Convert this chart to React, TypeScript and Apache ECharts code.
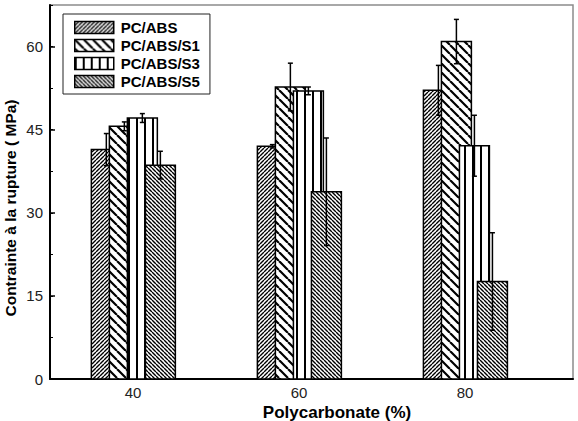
import React, { useEffect, useRef } from "react";
import * as echarts from "echarts";

const categories = [40, 60, 80];
const seriesNames = ["PC/ABS", "PC/ABS/S1", "PC/ABS/S3", "PC/ABS/S5"];
const pcAbs = [41.4, 42.0, 52.1];
const pcAbsS1 = [45.6, 52.7, 60.9];
const pcAbsS3 = [47.1, 52.0, 42.1];
const pcAbsS5 = [38.6, 33.8, 17.6];
const errPcAbs = [2.9, 0.3, 4.5];
const errS1 = [0.8, 4.3, 4.0];
const errS3 = [0.8, 0.7, 5.5];
const errS5 = [2.5, 9.7, 8.8];
const yTickLabels = [0, 15, 30, 45, 60];

const values = [pcAbs, pcAbsS1, pcAbsS3, pcAbsS5];
const errors = [errPcAbs, errS1, errS3, errS5];

const FONT = "Liberation Sans, Arial, sans-serif";
const BAR_W = 3.61;
const STEP = 2.17;
const FIRST = -5.02;

function diagPattern(p: number, lw: number, dir: "/" | "\\") {
  const c = document.createElement("canvas");
  c.width = p;
  c.height = p;
  const ctx = c.getContext("2d")!;
  ctx.fillStyle = "#fff";
  ctx.fillRect(0, 0, p, p);
  ctx.strokeStyle = "#000";
  ctx.lineWidth = lw;
  ctx.beginPath();
  for (let k = -1; k <= 1; k++) {
    if (dir === "/") {
      ctx.moveTo(k * p, p);
      ctx.lineTo(k * p + p, 0);
    } else {
      ctx.moveTo(k * p, 0);
      ctx.lineTo(k * p + p, p);
    }
  }
  ctx.stroke();
  return { image: c, repeat: "repeat", imageWidth: p, imageHeight: p } as any;
}

function vertPattern(p: number, lw: number) {
  const c = document.createElement("canvas");
  c.width = p;
  c.height = p;
  const ctx = c.getContext("2d")!;
  ctx.fillStyle = "#fff";
  ctx.fillRect(0, 0, p, p);
  ctx.fillStyle = "#000";
  ctx.fillRect(0, 0, lw, p);
  return { image: c, repeat: "repeat", imageWidth: p, imageHeight: p } as any;
}

export default function App() {
  const ref = useRef<HTMLDivElement>(null);
  useEffect(() => {
    if (!ref.current) return;
    const chart = echarts.init(ref.current, null, { renderer: "svg" });
    const patterns = [
      diagPattern(4, 1.4, "/"),
      diagPattern(9, 2.2, "\\"),
      vertPattern(8, 2),
      diagPattern(4, 1.4, "\\"),
    ];

    const barSeries = seriesNames.map((name, i) => ({
      type: "custom",
      name,
      xAxisIndex: 0,
      yAxisIndex: 0,
      itemStyle: { color: "#000" },
      data: categories.map((c, k) => [c, values[i][k]]),
      renderItem: (params: any, api: any) => {
        const c = api.value(0);
        const v = api.value(1);
        const x0 = c + FIRST + STEP * i;
        const p1 = api.coord([x0, v]);
        const p0 = api.coord([x0 + BAR_W, 0]);
        return {
          type: "rect",
          shape: { x: p1[0], y: p1[1], width: p0[0] - p1[0], height: p0[1] - p1[1] },
          style: { fill: patterns[i], stroke: "#000", lineWidth: 1.5 },
        };
      },
    }));

    const errData: number[][] = [];
    seriesNames.forEach((_, i) => {
      categories.forEach((c, k) => {
        errData.push([c, values[i][k], errors[i][k], i]);
      });
    });

    const errSeries = {
      type: "custom",
      name: "err",
      xAxisIndex: 0,
      yAxisIndex: 0,
      z: 5,
      data: errData,
      renderItem: (params: any, api: any) => {
        const c = api.value(0);
        const v = api.value(1);
        const e = api.value(2);
        const i = api.value(3);
        const xc = c + FIRST + STEP * i + BAR_W / 2;
        const top = api.coord([xc, v + e]);
        const bot = api.coord([xc, v - e]);
        const hw = 2.5;
        const st = { stroke: "#000", lineWidth: 1.5 };
        return {
          type: "group",
          children: [
            { type: "line", shape: { x1: top[0], y1: top[1], x2: bot[0], y2: bot[1] }, style: st },
            { type: "line", shape: { x1: top[0] - hw, y1: top[1], x2: top[0] + hw, y2: top[1] }, style: st },
            { type: "line", shape: { x1: bot[0] - hw, y1: bot[1], x2: bot[0] + hw, y2: bot[1] }, style: st },
          ],
        };
      },
    };

    const option: any = {
      animation: false,
      grid: {
        left: 50,
        right: 5,
        top: 5,
        bottom: 42,
        show: true,
        borderColor: "#8c8c8c",
        borderWidth: 1.5,
      },
      legend: {
        orient: "vertical",
        left: 63,
        top: 14,
        itemWidth: 39,
        itemHeight: 12,
        itemGap: 3,
        padding: [6, 10, 5, 11],
        borderColor: "#222",
        borderWidth: 1,
        selectedMode: false,
        textStyle: { fontFamily: FONT, fontWeight: "bold", fontSize: 15, color: "#000", padding: [0, 0, 0, 2] },
        data: seriesNames.map((n, i) => ({
          name: n,
          icon: "rect",
          itemStyle: { color: patterns[i], borderColor: "#000", borderWidth: 1.5 },
        })),
      },
      xAxis: {
        type: "value",
        min: 30,
        max: 93,
        axisLine: { show: true, onZero: false, lineStyle: { color: "#000", width: 2 } },
        axisTick: { show: false },
        splitLine: { show: false },
        axisLabel: {
          customValues: categories,
          color: "#222",
          fontSize: 15,
          fontFamily: FONT,
          margin: 6,
        },
      },
      yAxis: [
        {
          type: "value",
          min: 0,
          max: 67.5,
          interval: 15,
          axisLine: { show: true, onZero: false, lineStyle: { color: "#000", width: 2 } },
          axisTick: { show: true, inside: true, length: 5, customValues: yTickLabels, lineStyle: { color: "#000", width: 1.5 } },
          splitLine: { show: false },
          axisLabel: {
            customValues: yTickLabels,
            color: "#222",
            fontSize: 15,
            fontFamily: FONT,
            margin: 7,
          },
        },
        {
          type: "value",
          position: "left",
          min: 0,
          max: 67.5,
          interval: 7.5,
          axisLine: { show: false },
          axisTick: { show: true, inside: true, length: 3, lineStyle: { color: "#000", width: 1 } },
          axisLabel: { show: false },
          splitLine: { show: false },
        },
      ],
      graphic: [
        {
          type: "text",
          x: 337,
          y: 412,
          style: {
            text: "Polycarbonate (%)",
            font: `bold 17px ${FONT}`,
            fill: "#000",
            align: "center",
            verticalAlign: "middle",
          },
        },
        {
          type: "text",
          x: 10,
          y: 208,
          rotation: Math.PI / 2,
          style: {
            text: "Contrainte à la rupture ( MPa)",
            font: `bold 15.5px ${FONT}`,
            fill: "#000",
            align: "center",
            verticalAlign: "middle",
          },
        },
      ],
      series: [...barSeries, errSeries],
    };
    chart.setOption(option);
    return () => chart.dispose();
  }, []);
  return <div ref={ref} style={{ width: 578, height: 421, position: "absolute", left: 0, top: 0 }} />;
}
